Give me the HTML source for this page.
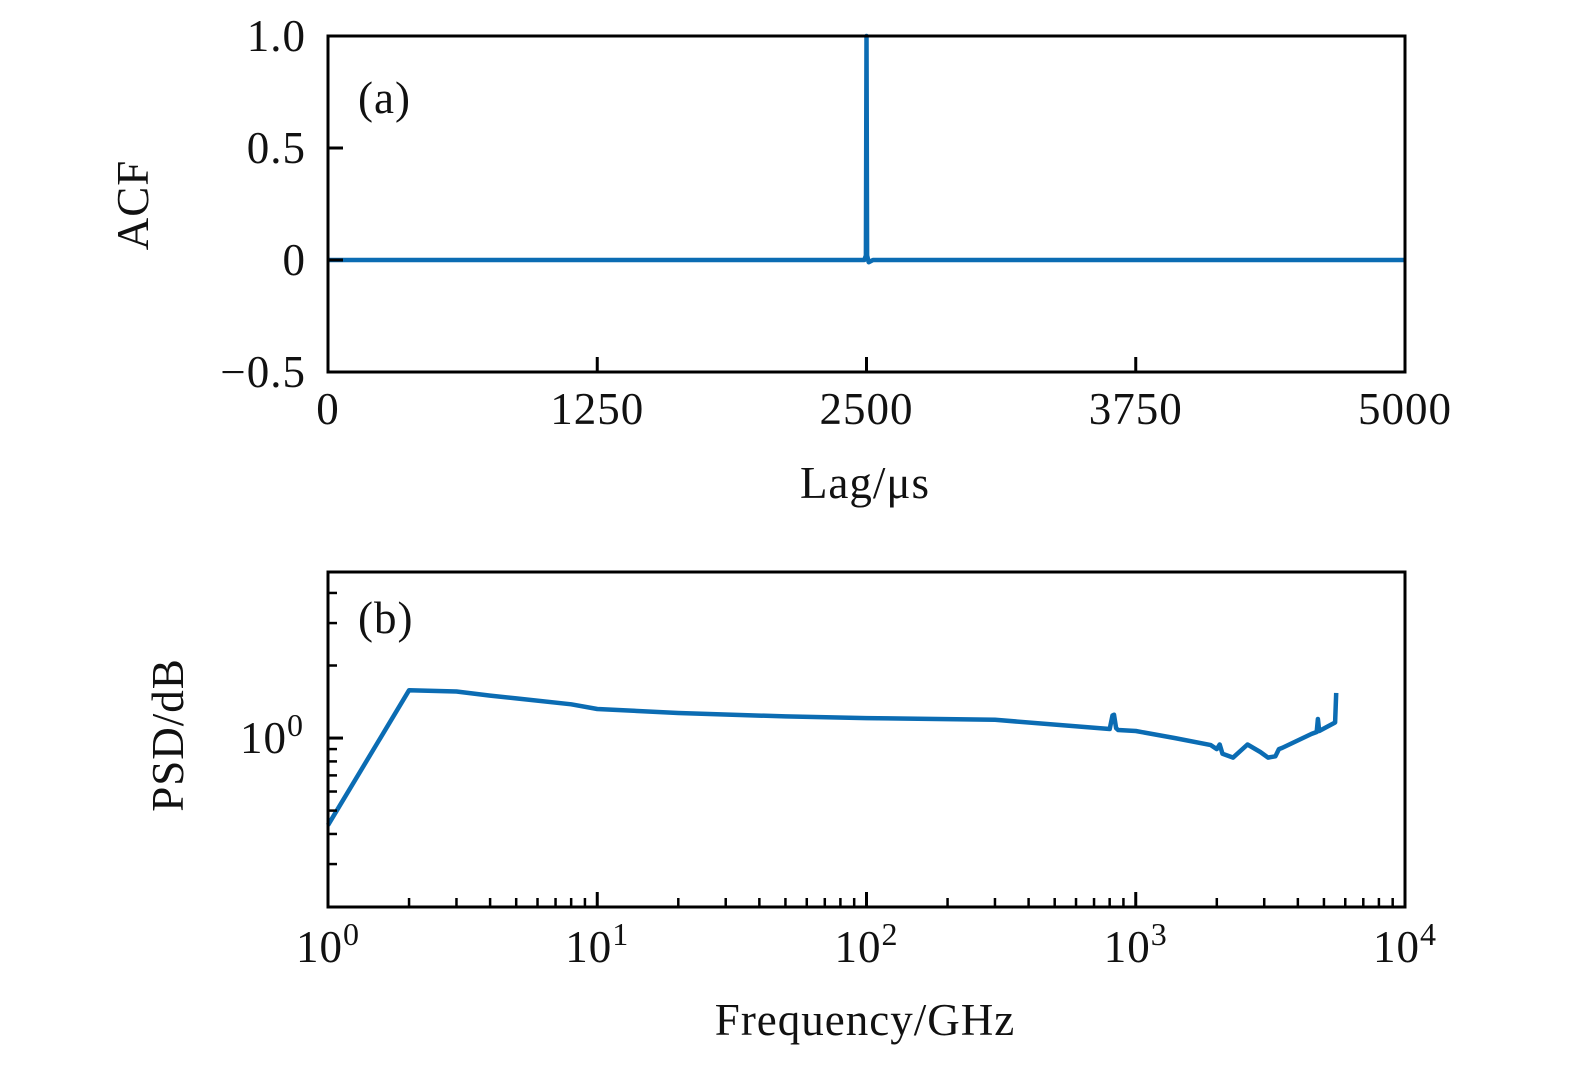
<!DOCTYPE html>
<html><head><meta charset="utf-8"><style>
body{margin:0;background:#fff}
svg text{font-family:"Liberation Serif",serif;fill:#111;letter-spacing:1px}
</style></head><body>
<svg id="c" width="1575" height="1063" xmlns="http://www.w3.org/2000/svg"></svg>
<script>
const acfLags=[0,2490,2497,2500,2503,2510,2530,5000];
const acfValues=[0,0,0.02,1.0,0.02,-0.01,0,0];
const aTicksX=[0,1250,2500,3750,5000];
const aTicksY=[-0.5,0,0.5,1.0];
const aTickLabelsY=["\u22120.5","0","0.5","1.0"];
const psdFreq=[1,2,3,4,5,8,10,20,50,100,300,800,820,830,845,860,1000,1400,1900,2000,2050,2100,2300,2600,2900,3100,3300,3400,3500,4500,4700,4750,4800,5500,5550];
const psdValues=[0.435,1.58,1.56,1.50,1.46,1.38,1.32,1.27,1.23,1.21,1.19,1.09,1.24,1.25,1.10,1.08,1.07,1.0,0.935,0.90,0.94,0.86,0.83,0.94,0.875,0.83,0.84,0.90,0.91,1.04,1.06,1.2,1.07,1.16,1.54];
const bTicksX=[0,1,2,3,4];
const bMajorY=[0];
const bMinorY=[0.3,0.4,0.5,0.6,0.7,0.8,0.9,2,3,4];

const svg=document.getElementById('c');
const NS='http://www.w3.org/2000/svg';
function mk(tag,attrs,parent){const e=document.createElementNS(NS,tag);for(const k in attrs)e.setAttribute(k,attrs[k]);(parent||svg).appendChild(e);return e;}
const L=328,R=1405;
const aT=36,aB=372;
const ax=v=>L+(v-0)/(5000)*(R-L);
const ay=v=>aB-(v+0.5)/1.5*(aB-aT);
const bT=572,bB=907;
const bx=v=>L+(Math.log10(v))/4*(R-L);
const bxe=e=>L+e/4*(R-L);
const byl=l=>bB-(l+0.701)/(1.390)*(bB-bT);
const by=v=>byl(Math.log10(v));

function text(x,y,s,anchor,size,name,rot){const t=mk('text',{x:x,y:y,'text-anchor':anchor,'font-size':size});t.textContent=s;if(rot)t.setAttribute('transform',rot);return t;}

let d='';acfLags.forEach((v,i)=>{d+=(i?'L':'M')+ax(v).toFixed(1)+','+ay(acfValues[i]).toFixed(1);});
const pa=mk('path',{d:d,fill:'none',stroke:'#0b6cb3','stroke-width':4.5,'stroke-linejoin':'round'});


const fa=mk('rect',{x:L,y:aT,width:R-L,height:aB-aT,fill:'none',stroke:'#000','stroke-width':3});


aTicksX.forEach(v=>{mk('line',{x1:ax(v),x2:ax(v),y1:aB,y2:aB-15,stroke:'#000','stroke-width':3});text(ax(v),424,String(v),'middle',45,'x-tick-label-a');});
aTicksY.forEach((v,i)=>{mk('line',{x1:L,x2:L+15,y1:ay(v),y2:ay(v),stroke:'#000','stroke-width':3});text(306,ay(v)+15,aTickLabelsY[i],'end',45,'y-tick-label-a');});
text(358,113,'(a)','start',45,'panel-a-label');
text(865,498,'Lag/\u03bcs','middle',45,'x-axis-title-a');
text(148,205,'ACF','middle',45,'y-axis-title-a','rotate(-90 148 205)');

d='';psdFreq.forEach((v,i)=>{d+=(i?'L':'M')+bx(v).toFixed(1)+','+by(psdValues[i]).toFixed(1);});
const pb=mk('path',{d:d,fill:'none',stroke:'#0b6cb3','stroke-width':4.5,'stroke-linejoin':'round'});


const fb=mk('rect',{x:L,y:bT,width:R-L,height:bB-bT,fill:'none',stroke:'#000','stroke-width':3});


bTicksX.forEach(e=>{const x=bxe(e);mk('line',{x1:x,x2:x,y1:bB,y2:bB-15,stroke:'#000','stroke-width':3});
 const t=mk('text',{x:x,y:962,'text-anchor':'middle','font-size':45});t.innerHTML='10<tspan dy="-17" font-size="32">'+e+'</tspan>';
 if(e<4)for(let m=2;m<10;m++){const xm=bxe(e+Math.log10(m));mk('line',{x1:xm,x2:xm,y1:bB,y2:bB-9,stroke:'#000','stroke-width':2.5});}
});
bMajorY.forEach(l=>{const y=byl(l);mk('line',{x1:L,x2:L+15,y1:y,y2:y,stroke:'#000','stroke-width':3});
 const t=mk('text',{x:304,y:y+15,'text-anchor':'end','font-size':45});t.innerHTML='10<tspan dy="-17" font-size="32">0</tspan>';});
bMinorY.forEach(v=>{const y=by(v);mk('line',{x1:L,x2:L+9,y1:y,y2:y,stroke:'#000','stroke-width':2.5});});
text(358,633,'(b)','start',45,'panel-b-label');
text(865,1035,'Frequency/GHz','middle',45,'x-axis-title-b');
text(183,735,'PSD/dB','middle',45,'y-axis-title-b','rotate(-90 183 735)');
</script>
</body></html>
